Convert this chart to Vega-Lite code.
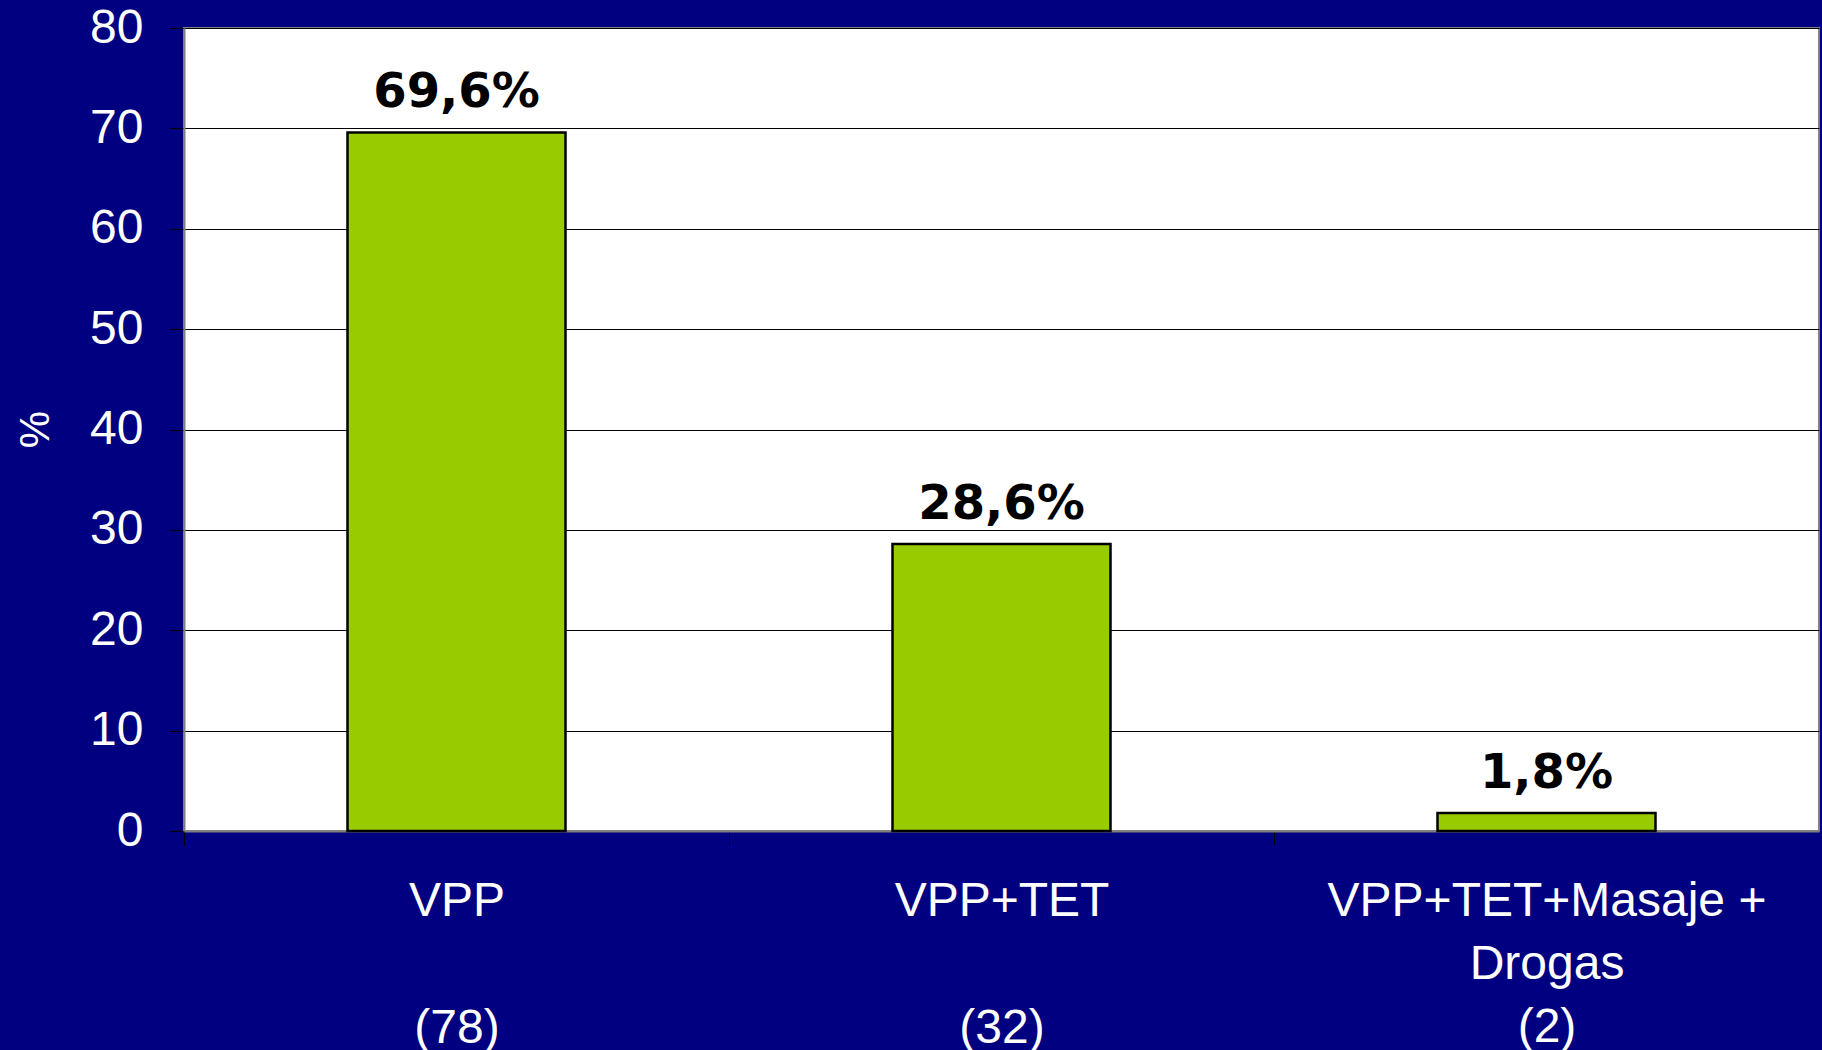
{
  "$schema": "https://vega.github.io/schema/vega-lite/v6.json",
  "autosize": {"type": "none"},
  "width": 1635,
  "height": 803,
  "padding": {"left": 184, "top": 28, "right": 3, "bottom": 219},
  "background": "#000080",
  "config": {
    "view": {"fill": "white", "stroke": "#808080", "strokeWidth": 2},
    "font": "Liberation Sans"
  },
  "data": {
    "values": [
      {"cat": "VPP|(78)", "pct": 69.6, "label": "69,6%"},
      {"cat": "VPP+TET|(32)", "pct": 28.6, "label": "28,6%"},
      {"cat": "VPP+TET+Masaje +|Drogas|(2)", "pct": 1.8, "label": "1,8%"}
    ]
  },
  "encoding": {
    "x": {
      "field": "cat",
      "type": "nominal",
      "sort": null,
      "scale": {"paddingInner": 0.6, "paddingOuter": 0.3},
      "axis": {
        "title": null,
        "labelAngle": 0,
        "labelExpr": "split(datum.value, '|')",
        "labelColor": "white",
        "labelFont": "Liberation Sans",
        "labelFontSize": 48,
        "labelLineHeight": {"expr": "indexof(datum.value, 'Drogas') >= 0 ? 63 : 127"},
        "labelPadding": 32,
        "labelBaseline": "top",
        "labelLimit": 0,
        "tickOffset": -272.5,
        "labelOffset": 272.5,
        "tickColor": "black",
        "tickSize": 14,
        "domainColor": "#808080",
        "domainWidth": 2
      }
    },
    "y": {
      "field": "pct",
      "type": "quantitative",
      "scale": {"domain": [0, 80], "nice": false},
      "axis": {
        "title": "%",
        "titleColor": "white",
        "titleFont": "Liberation Sans",
        "titleFontSize": 42,
        "titleFontWeight": "normal",
        "titleX": -149,
        "titleY": 401,
        "titleAngle": 270,
        "titleAlign": "center",
        "titleBaseline": "middle",
        "values": [0, 10, 20, 30, 40, 50, 60, 70, 80],
        "labelColor": "white",
        "labelFont": "Liberation Sans",
        "labelFontSize": 48,
        "labelPadding": 26,
        "tickColor": "black",
        "tickSize": 15,
        "gridColor": "black",
        "gridWidth": 1,
        "gridOpacity": 1,
        "domainColor": "#808080",
        "domainWidth": 2
      }
    }
  },
  "layer": [
    {
      "mark": {"type": "bar", "fill": "#99CC00", "stroke": "black", "strokeWidth": 2.5}
    },
    {
      "mark": {
        "type": "text",
        "font": "DejaVu Sans",
        "fontWeight": "bold",
        "fontSize": 48,
        "color": "black",
        "baseline": "alphabetic",
        "dy": -25
      },
      "encoding": {"text": {"field": "label"}}
    }
  ]
}
